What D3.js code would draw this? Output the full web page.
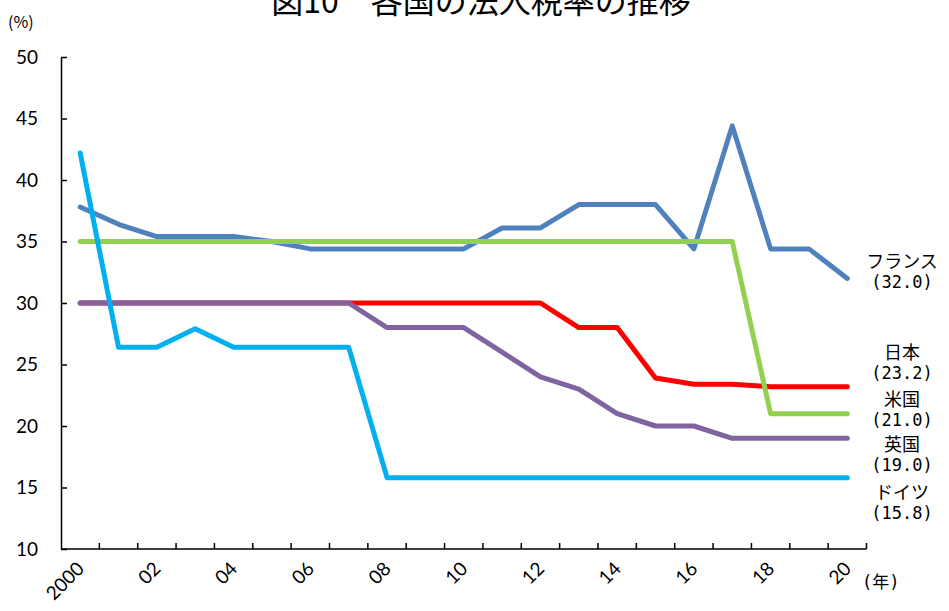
<!DOCTYPE html>
<html>
  <head>
    <meta charset="utf-8">
    <title>図10 各国の法人税率の推移</title>
    <script src="https://cdnjs.cloudflare.com/ajax/libs/d3/7.8.5/d3.min.js"></script>
    <style>
      body { margin: 0; background: #fff; }
      svg { display: block; }
      .num { font-family: Lato, "Liberation Sans", sans-serif; }
      .jp { font-family: "Noto Sans CJK JP", sans-serif; }
      .mono { font-family: "DejaVu Sans Mono", "Noto Sans CJK JP", monospace; }
    </style>
  </head>
  <body>
    <script>

      var width = 949;
      var height = 611;

      // data (法人税率, %)
      var years   = d3.range(2000, 2021);
      var france  = [37.8, 36.4, 35.4, 35.4, 35.4, 35.0, 34.4, 34.4, 34.4, 34.4, 34.4,
                     36.1, 36.1, 38.0, 38.0, 38.0, 34.4, 44.4, 34.4, 34.4, 32.0];
      var japan   = [30.0, 30.0, 30.0, 30.0, 30.0, 30.0, 30.0, 30.0, 30.0, 30.0, 30.0,
                     30.0, 30.0, 28.0, 28.0, 23.9, 23.4, 23.4, 23.2, 23.2, 23.2];
      var usa     = [35.0, 35.0, 35.0, 35.0, 35.0, 35.0, 35.0, 35.0, 35.0, 35.0, 35.0,
                     35.0, 35.0, 35.0, 35.0, 35.0, 35.0, 35.0, 21.0, 21.0, 21.0];
      var uk      = [30.0, 30.0, 30.0, 30.0, 30.0, 30.0, 30.0, 30.0, 28.0, 28.0, 28.0,
                     26.0, 24.0, 23.0, 21.0, 20.0, 20.0, 19.0, 19.0, 19.0, 19.0];
      var germany = [42.2, 26.4, 26.4, 27.9, 26.4, 26.4, 26.4, 26.4, 15.8, 15.8, 15.8,
                     15.8, 15.8, 15.8, 15.8, 15.8, 15.8, 15.8, 15.8, 15.8, 15.8];

      var yTicks = [10, 15, 20, 25, 30, 35, 40, 45, 50];
      var xLabelYears = years.filter(function (d) { return d % 2 === 0; });

      // drawing order: later ones on top
      var series = [
        { name: "フランス", values: france,  color: "#4F81BD" },
        { name: "日本",     values: japan,   color: "#FF0000" },
        { name: "英国",     values: uk,      color: "#8064A2" },
        { name: "米国",     values: usa,     color: "#92D050" },
        { name: "ドイツ",   values: germany, color: "#00B0F0" }
      ];

      var svg = d3.select("body").append("svg")
        .attr("width", width)
        .attr("height", height);

      var xScale = d3.scaleBand().domain(years).range([61, 866.5]);
      var yScale = d3.scaleLinear().domain([10, 50]).range([549, 57]);
      var bw = xScale.bandwidth();
      function cx(yr) { return xScale(yr) + bw / 2; }

      // title (its top is cut off in the original)
      svg.append("text")
        .attr("class", "jp")
        .attr("x", 481).attr("y", 13)
        .attr("text-anchor", "middle")
        .style("font-size", "32px")
        .text("図10　各国の法人税率の推移");

      svg.append("text")
        .attr("class", "jp")
        .attr("x", 8).attr("y", 28)
        .style("font-size", "16px")
        .text("(%)");

      // y axis, ticks pointing inward
      var yAxisG = svg.append("g")
        .attr("transform", "translate(61,0)")
        .call(d3.axisLeft(yScale).tickValues(yTicks).tickSize(-6).tickSizeOuter(0).tickPadding(23));
      yAxisG.selectAll("path, line").attr("stroke", "#000").attr("stroke-width", 1.5);
      yAxisG.selectAll("text")
        .attr("class", "num")
        .style("font-size", "19px")
        .attr("fill", "#000");

      // x axis line + ticks on category boundaries
      var xg = svg.append("g");
      xg.append("line")
        .attr("x1", 61).attr("x2", 866.5)
        .attr("y1", 549).attr("y2", 549)
        .attr("stroke", "#000").attr("stroke-width", 1.5);
      var bounds = years.map(function (d) { return xScale(d); }).concat([xScale.range()[1]]);
      xg.selectAll("line.tick").data(bounds.slice(1)).enter().append("line")
        .attr("class", "tick")
        .attr("x1", function (d) { return d; }).attr("x2", function (d) { return d; })
        .attr("y1", 549).attr("y2", 543)
        .attr("stroke", "#000").attr("stroke-width", 1.5);

      xg.selectAll("text.xl").data(xLabelYears).enter().append("text")
        .attr("class", "xl num")
        .attr("text-anchor", "end")
        .attr("transform", function (d) {
          return "translate(" + (cx(d) + 5) + ",570) rotate(-45)";
        })
        .style("font-size", "19px")
        .text(function (d) { return d === 2000 ? "2000" : d3.format("02d")(d % 100); });

      svg.append("text")
        .attr("class", "mono")
        .attr("x", 862).attr("y", 588)
        .style("font-size", "17px")
        .text("(年)");

      // lines
      var line = d3.line()
        .x(function (d, i) { return cx(years[i]); })
        .y(function (d) { return yScale(d); });

      svg.selectAll("path.series").data(series).enter().append("path")
        .attr("class", "series")
        .attr("d", function (s) { return line(s.values); })
        .attr("fill", "none")
        .attr("stroke", function (s) { return s.color; })
        .attr("stroke-width", 5)
        .attr("stroke-linecap", "round")
        .attr("stroke-linejoin", "round");

      // right-hand labels: name, then last value in brackets
      var labelY = { "フランス": 268, "日本": 359, "米国": 406, "英国": 451, "ドイツ": 499 };
      var labels = [];
      series.forEach(function (s) {
        var last = s.values[s.values.length - 1];
        labels.push({ text: s.name, y: labelY[s.name], cls: "jp", size: 18 });
        labels.push({ text: "(" + d3.format(".1f")(last) + ")", y: labelY[s.name] + 20, cls: "mono", size: 17 });
      });
      svg.selectAll("text.rl").data(labels).enter().append("text")
        .attr("class", function (d) { return "rl " + d.cls; })
        .attr("x", 902)
        .attr("y", function (d) { return d.y; })
        .attr("text-anchor", "middle")
        .style("font-size", function (d) { return d.size + "px"; })
        .text(function (d) { return d.text; });

    </script>
  </body>
</html>
